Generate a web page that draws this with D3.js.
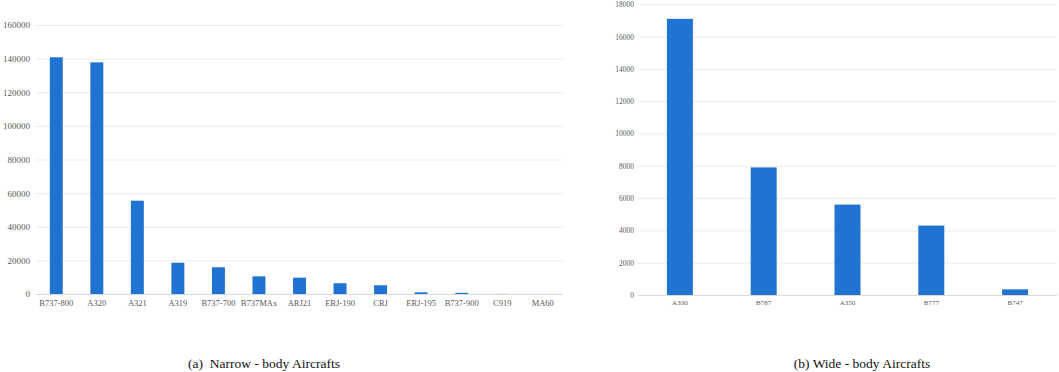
<!DOCTYPE html>
<html>
<head>
<meta charset="utf-8">
<script src="https://cdn.jsdelivr.net/npm/d3@7"></script>
<style>
  body { margin: 0; background: #fff; }
  svg { display: block; }
</style>
</head>
<body>
<div id="main"></div>
<script>
const W = 1059, H = 372;

// narrow-body fleet (left panel)
const narrowTypes = ["B737-800", "A320", "A321", "A319", "B737-700", "B737MAx", "ARJ21", "ERJ-190", "CRJ", "ERJ-195", "B737-900", "C919", "MA60"];
const narrowCounts = [140800, 137800, 55500, 18600, 15900, 10500, 9700, 6400, 5200, 1000, 700, 60, 0];
const narrowTicks = [0, 20000, 40000, 60000, 80000, 100000, 120000, 140000, 160000];

// wide-body fleet (right panel)
const wideTypes = ["A330", "B787", "A350", "B777", "B747"];
const wideCounts = [17100, 7900, 5600, 4300, 350];
const wideTicks = [0, 2000, 4000, 6000, 8000, 10000, 12000, 14000, 16000, 18000];

const captions = ["(a)  Narrow - body Aircrafts", "(b) Wide - body Aircrafts"];

const BAR = "#2173d2";
const GRID = "#ebebeb";
const TXT = "#595959";

const svg = d3.select("#main").append("svg")
    .attr("width", W)
    .attr("height", H);

svg.append("rect").attr("width", W).attr("height", H).attr("fill", "#fff");

function drawPanel(cfg) {
    const g = svg.append("g");
    const x = d3.scaleBand()
        .domain(cfg.types)
        .range([cfg.x0, cfg.x1])
        .paddingInner(cfg.pad)
        .paddingOuter(cfg.pad / 2);
    const y = d3.scaleLinear()
        .domain([0, d3.max(cfg.ticks)])
        .range([cfg.y0, cfg.y1]);

    // gridlines + tick labels
    const yAxis = d3.axisLeft(y)
        .tickValues(cfg.ticks)
        .tickSize(-(cfg.x1 - cfg.x0))
        .tickPadding(cfg.tickPad)
        .tickFormat(d3.format("d"));
    const ya = g.append("g")
        .attr("transform", `translate(${cfg.x0},0)`)
        .call(yAxis);
    ya.select(".domain").remove();
    ya.selectAll("line")
        .attr("stroke", d => d === 0 ? "#d9d9d9" : GRID)
        .attr("stroke-width", 1);
    ya.selectAll("text")
        .attr("fill", TXT)
        .style("font-family", "'Liberation Serif', serif")
        .style("font-size", cfg.tickFont + "px");

    // bars
    g.selectAll("rect.bar")
        .data(cfg.counts)
        .enter()
        .append("rect")
        .attr("class", "bar")
        .attr("x", (d, i) => x(cfg.types[i]))
        .attr("width", x.bandwidth())
        .attr("y", d => y(d))
        .attr("height", d => cfg.y0 - y(d))
        .attr("fill", BAR);

    // category labels
    const xAxis = d3.axisBottom(x).tickSize(0).tickPadding(cfg.catPad);
    const xa = g.append("g")
        .attr("transform", `translate(0,${cfg.y0})`)
        .call(xAxis);
    xa.select(".domain").remove();
    xa.selectAll("text")
        .attr("fill", TXT)
        .style("font-family", "'Liberation Serif', serif")
        .style("font-size", cfg.catFont + "px");

    // caption (keep the double space after "(a)")
    svg.append("text")
        .attr("x", cfg.capX)
        .attr("y", 368)
        .attr("text-anchor", "middle")
        .attr("fill", "#111")
        .style("white-space", "pre")
        .style("font-family", "'Liberation Serif', serif")
        .style("font-size", "13.5px")
        .text(cfg.caption);
}

drawPanel({
    types: narrowTypes, counts: narrowCounts, ticks: narrowTicks,
    x0: 36, x1: 563, y0: 294, y1: 25, pad: 0.68,
    tickPad: 6, tickFont: 9, catPad: 6, catFont: 8.5,
    capX: 264, caption: captions[0]
});

drawPanel({
    types: wideTypes, counts: wideCounts, ticks: wideTicks,
    x0: 638, x1: 1057, y0: 295, y1: 4.3, pad: 0.69,
    tickPad: 4, tickFont: 7.5, catPad: 5, catFont: 7,
    capX: 862, caption: captions[1]
});
</script>
</body>
</html>
